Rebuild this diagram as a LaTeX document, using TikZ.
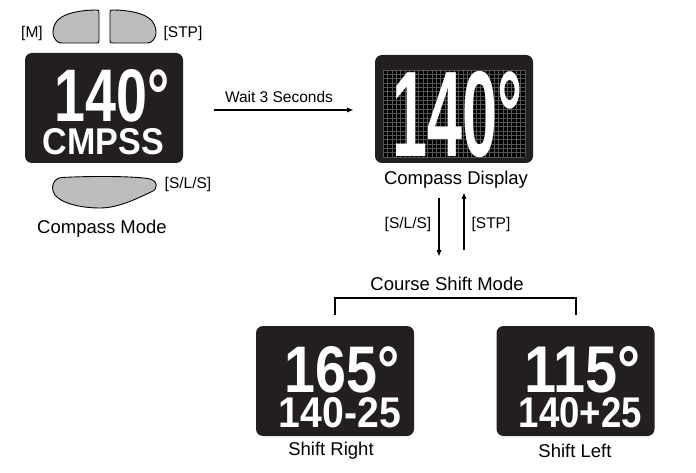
\documentclass[tikz,border=0pt]{standalone}
\usepackage{fontspec}
\setmainfont{Liberation Sans}
\usetikzlibrary{arrows.meta}
\definecolor{disp}{HTML}{231F20}
\definecolor{btngray}{HTML}{BDBDBD}
\definecolor{gridc}{HTML}{555555}
\tikzset{
  display/.style={fill=disp, rounded corners=7pt, minimum width=158pt, minimum height=110pt, inner sep=0pt},
  lbl/.style={font=\fontsize{18.5}{20}\selectfont, inner sep=0pt},
  small/.style={font=\fontsize{15.5}{17}\selectfont, inner sep=0pt},
  lcd/.style={text=white, inner sep=0pt, font=\bfseries},
  btn/.style={fill=btngray, draw=black, line width=0.9pt},
  arr/.style={-{Triangle[length=6pt,width=4.5pt]}, line width=1.1pt},
  bracket/.style={line width=2pt},
}
\newcommand{\leftbtn}{(96,10) .. controls (85,10) and (64,12) .. (57,21) .. controls (51,29) and (52,38) .. (58,42) .. controls (60,43) .. (65,43) -- (96,43) .. controls (99,43) .. (99,40) -- (99,13) .. controls (99,10) .. (96,10) -- cycle}
\begin{document}
\begin{tikzpicture}[x=1pt,y=-1pt]
\useasboundingbox (0,0) rectangle (696,473);

% ---- Compass Mode ----
\draw[btn] \leftbtn;
\begin{scope}[xshift=209pt, xscale=-1]
  \draw[btn] \leftbtn;
\end{scope}
\node[small] (lm) at (32,33) {[M]};
\node[small] (lstp) at (183,33) {[STP]};
\node[display] (cm) at (104,108) {};
\node[lcd] (cm1) at (112.5,96) {\resizebox{115pt}{52pt}{140°}};
\node[lcd] (cm2) at (103.5,142) {\resizebox{121pt}{26pt}{CMPSS}};
\draw[btn] (62,177.5) .. controls (90,176) and (130,176) .. (148,178.5) .. controls (158,180) and (159,189) .. (151,192) .. controls (136,199) and (118,208) .. (100,208) .. controls (80,208) and (61,203) .. (55,195) .. controls (50,188) and (53,178) .. (62,177.5) -- cycle;
\node[small] (lsls) at (188,184) {[S/L/S]};
\node[lbl] (cml) at (102,229) {Compass Mode};

% ---- Wait arrow ----
\node[small] (wt) at (279,97) {Wait 3 Seconds};
\coordinate (w1) at (214,110);
\coordinate (w2) at (353,110);
\draw[arr] (w1) -- (w2);

% ---- Compass Display ----
\node[display, minimum height=108pt] (cd) at (454,109) {};
\fill[black] (383,70) rectangle (525,157);
\foreach \i in {0,...,32} \draw[gridc, line width=0.6pt] (383+\i*4.4375,70) -- ++(0,87);
\foreach \j in {0,...,20} \draw[gridc, line width=0.6pt] (383,70+\j*4.35) -- ++(142,0);
\node[lcd] (cd1) at (458,114.5) {\resizebox{130pt}{85pt}{140°}};
\node[lbl] (cdl) at (456,180) {Compass Display};

% ---- arrows between modes ----
\coordinate (a1) at (439,198);
\coordinate (a2) at (439,256);
\coordinate (b1) at (464,250);
\coordinate (b2) at (464,193);
\draw[arr] (a1) -- (a2);
\draw[arr] (b1) -- (b2);
\node[small] (lsls2) at (408,224) {[S/L/S]};
\node[small] (lstp2) at (491,224) {[STP]};

% ---- Course Shift Mode ----
\node[lbl] (csm) at (447,284) {Course Shift Mode};
\node[display] (sr) at (335,381) {};
\node[lcd] (sr1) at (342.5,370) {\resizebox{115pt}{46pt}{165°}};
\node[lcd] (sr2) at (340,413) {\resizebox{122pt}{30pt}{140-25}};
\node[lbl] (srl) at (331,451) {Shift Right};
\node[display] (sl) at (575.5,381) {};
\node[lcd] (sl1) at (583,370) {\resizebox{116pt}{46pt}{115°}};
\node[lcd] (sl2) at (580.5,413) {\resizebox{123pt}{30pt}{140+25}};
\node[lbl] (sll) at (575,451) {Shift Left};
\draw[bracket] ([yshift=11pt]sr.north) -- ++(0,-17) -| ([yshift=11pt]sl.north);
\end{tikzpicture}
\end{document}
